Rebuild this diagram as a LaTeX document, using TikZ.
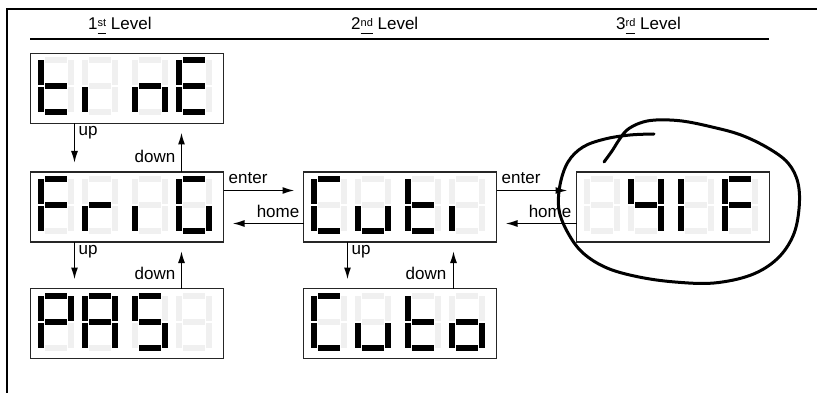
\documentclass[tikz,border=0pt]{standalone}
\usepackage{fontspec}
\setmainfont{Liberation Sans}
\usetikzlibrary{arrows.meta,calc}
\definecolor{segoff}{RGB}{240,240,240}
\newcommand\ssga[1]{\fill[#1] (7,0) rectangle (29,6);}
\newcommand\ssgb[1]{\fill[#1] (30,3) rectangle (36,28);}
\newcommand\ssgc[1]{\fill[#1] (30,30) rectangle (36,55);}
\newcommand\ssgd[1]{\fill[#1] (7,52) rectangle (29,58);}
\newcommand\ssge[1]{\fill[#1] (0,30) rectangle (6,55);}
\newcommand\ssgf[1]{\fill[#1] (0,3) rectangle (6,28);}
\newcommand\ssgg[1]{\fill[#1] (7,26) rectangle (29,32);}
\newcommand\ssgz[1]{}
\newcommand\sevdigit[2]{\begin{scope}[shift={#1}]
  \foreach \s in {a,b,c,d,e,f,g}{\csname ssg\s\endcsname{segoff}}
  \foreach \s in {#2}{\csname ssg\s\endcsname{black}}
\end{scope}}
\newcommand\dispdigits[5]{%
  \sevdigit{($(#1.north west)+(7,4)$)}{#2}
  \sevdigit{($(#1.north west)+(51,4)$)}{#3}
  \sevdigit{($(#1.north west)+(101,4)$)}{#4}
  \sevdigit{($(#1.north west)+(145,4)$)}{#5}}
\newcommand\ordsup[1]{$\underline{\hbox{\raisebox{3pt}{\fontsize{11}{11}\selectfont #1}\rule[-2pt]{0pt}{2pt}}}$}
\tikzset{
  disp/.style={draw=black!85, line width=1.3pt, minimum width=193pt, minimum height=70pt, inner sep=0pt, outer sep=0pt},
  arr/.style={-{Latex[length=12pt,width=7pt]}, line width=1.6pt, shorten >=9pt},
  lbl/.style={inner sep=0pt, font=\fontsize{17}{20}\selectfont},
}
\begin{document}
\begin{tikzpicture}[x=1pt,y=-1pt]
\useasboundingbox (0,0) rectangle (817,393);
\fill[white] (0,0) rectangle (817,393);
% frame
\draw[line width=2.2pt] (817,9) -- (7,9) -- (7,393);
\draw[line width=1.3pt] (30,39) -- (769,39);
% headers
\node[lbl, anchor=base west] (h1) at (88,29.5) {1\ordsup{st} Level};
\node[lbl, anchor=base west] (h2) at (351,29.5) {2\ordsup{nd} Level};
\node[lbl, anchor=base west] (h3) at (616,29.5) {3\ordsup{rd} Level};
% boxes
\node[disp] (tinE) at (127,88.5) {};
\node[disp] (FriG) at (127,207) {};
\node[disp] (PAS) at (127,323.5) {};
\node[disp] (Cuti) at (400,207) {};
\node[disp] (Cuto) at (400,323.5) {};
\node[disp] (fourone) at (673,207) {};
% digits
\dispdigits{tinE}{f,e,g,d}{e}{c,e,g}{a,f,e,g,d}
\dispdigits{FriG}{a,f,e,g}{e,g}{e}{a,f,e,d,c}
\dispdigits{PAS}{a,b,f,e,g}{a,b,c,f,e,g}{a,f,g,c,d}{z}
\dispdigits{Cuti}{a,f,e,d}{e,d,c}{f,e,g,d}{e}
\dispdigits{Cuto}{a,f,e,d}{e,d,c}{f,e,g,d}{e,g,c,d}
\dispdigits{fourone}{z}{f,g,b,c}{e,f}{a,f,e,g}
% vertical arrows column 1
\draw[arr] ($(tinE.south west)+(44,0)$) -- ($(FriG.north west)+(44,0)$);
\node[lbl, anchor=base west] (u1) at ($(tinE.south west)+(48,12)$) {up};
\draw[arr] ($(FriG.north west)+(151,0)$) -- ($(tinE.south west)+(151,0)$);
\node[lbl, anchor=base east] (d1) at ($(FriG.north west)+(145,-9)$) {down};
\draw[arr] ($(FriG.south west)+(44,0)$) -- ($(PAS.north west)+(44,0)$);
\node[lbl, anchor=base west] (u2) at ($(FriG.south west)+(48,12)$) {up};
\draw[arr] ($(PAS.north west)+(151,0)$) -- ($(FriG.south west)+(151,0)$);
\node[lbl, anchor=base east] (d2) at ($(PAS.north west)+(145,-9)$) {down};
% vertical arrows column 2
\draw[arr] ($(Cuti.south west)+(44,0)$) -- ($(Cuto.north west)+(44,0)$);
\node[lbl, anchor=base west] (u3) at ($(Cuti.south west)+(48,12)$) {up};
\draw[arr] ($(Cuto.north west)+(150,0)$) -- ($(Cuti.south west)+(150,0)$);
\node[lbl, anchor=base east] (d3) at ($(Cuto.north west)+(143,-9)$) {down};
% horizontal arrows
\draw[arr] ($(FriG.north east)+(0,18.5)$) -- ($(Cuti.north west)+(0,18.5)$);
\node[lbl, anchor=base west] (e1) at ($(FriG.north east)+(5,12)$) {enter};
\draw[arr] ($(Cuti.south west)+(0,-18.5)$) -- ($(FriG.south east)+(0,-18.5)$);
\node[lbl, anchor=base east] (m1) at ($(Cuti.south west)+(-4,-25)$) {home};
\draw[arr] ($(Cuti.north east)+(0,18.5)$) -- ($(fourone.north west)+(0,18.5)$);
\node[lbl, anchor=base west] (e2) at ($(Cuti.north east)+(5,12)$) {enter};
\draw[arr] ($(fourone.south west)+(0,-18.5)$) -- ($(Cuti.south east)+(0,-18.5)$);
\node[lbl, anchor=base east] (m2) at ($(fourone.south west)+(-5,-24)$) {home};
% hand-drawn loop
\draw[line width=3pt, line cap=round, line join=round] plot[smooth, tension=0.6] coordinates {
 (604,162) (612,151) (619,140) (627,130) (640,123) (656,120) (682,121) (712,127)
 (741,135) (768,148) (788,163) (798,183) (799,209) (793,236) (777,259) (751,275)
 (714,283) (675,282) (639,277) (607,268) (583,253) (568,233) (559,210) (560,185)
 (568,162) (583,147) (605,139) (630,135) (654,134)};
\end{tikzpicture}
\end{document}
